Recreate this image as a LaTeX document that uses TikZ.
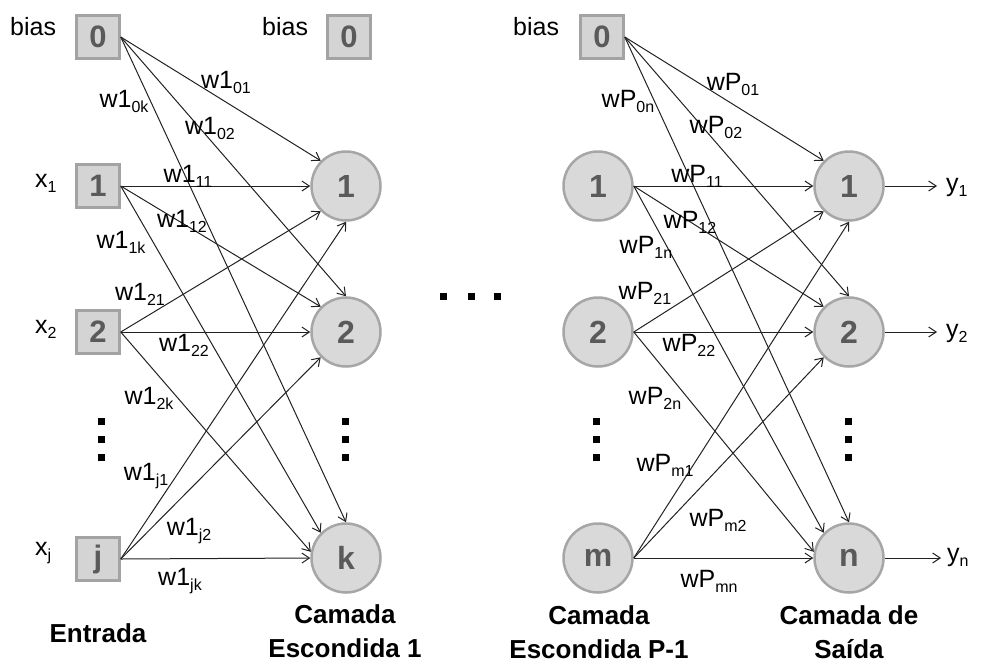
\documentclass[tikz,border=0pt]{standalone}
\usepackage{fontspec}
\setmainfont{Liberation Sans}
\usetikzlibrary{arrows.meta}
\definecolor{boxfill}{HTML}{D4D4D4}
\definecolor{boxline}{HTML}{A3A3A3}
\definecolor{unitfill}{HTML}{D9D9D9}
\definecolor{unitline}{HTML}{A6A6A6}
\definecolor{unittext}{HTML}{5A5A5A}
\definecolor{wirecol}{HTML}{222222}
% lowered, smaller index for weights and signals
\newcommand\lowsub[1]{\raisebox{-5pt}{\fontsize{16}{16}\selectfont #1}}
\begin{document}
\begin{tikzpicture}[x=1pt,y=-1pt,
  inbox/.style={rectangle, draw=boxline, fill=boxfill, line width=2.5pt,
    minimum size=43pt, inner sep=0pt, text=unittext,
    font=\fontsize{31}{31}\selectfont\bfseries},
  unit/.style={circle, draw=unitline, fill=unitfill, line width=2.5pt,
    minimum size=69pt, inner sep=0pt, text=unittext,
    font=\fontsize{32}{32}\selectfont\bfseries},
  wire/.style={draw=wirecol, line width=1pt,
    -{Straight Barb[length=7.5pt,width=10pt]}},
  lbl/.style={inner sep=0pt, font=\fontsize{25}{30}\selectfont},
  layer/.style={inner sep=0pt, anchor=north, align=center,
    font=\fontsize{26}{34}\selectfont\bfseries},
  dotmark/.style={rectangle, fill=black, minimum size=7pt, inner sep=0pt}
]
\useasboundingbox (0,0) rectangle (981,664);

% ---------- input layer ----------
\node[inbox] (b0) at (98,37) {0};
\node[inbox] (i1) at (98,186) {1};
\node[inbox] (i2) at (98,332) {2};
\node[inbox] (ij) at (98,559) {j};

% ---------- hidden layer 1 ----------
\node[inbox] (hb) at (349,37) {0};
\node[unit] (h1) at (346,186) {1};
\node[unit] (h2) at (346,332) {2};
\node[unit] (hk) at (346,558) {k};

% ---------- hidden layer P-1 ----------
\node[inbox] (pb) at (602,37) {0};
\node[unit] (p1) at (598,186) {1};
\node[unit] (p2) at (598,332) {2};
\node[unit] (pm) at (598,558) {m};

% ---------- output layer ----------
\node[unit] (o1) at (849,186) {1};
\node[unit] (o2) at (849,332) {2};
\node[unit] (on) at (849,558) {n};

% ---------- side labels ----------
\node[lbl, anchor=base west] (lb0) at (10,35) {bias};
\node[lbl, anchor=base west] (lhb) at (262,35) {bias};
\node[lbl, anchor=base west] (lpb) at (513,35) {bias};
\node[lbl, anchor=base west] (lx1) at (35,187) {x\lowsub{1}};
\node[lbl, anchor=base west] (lx2) at (35,333) {x\lowsub{2}};
\node[lbl, anchor=base west] (lxj) at (35,555) {x\lowsub{j}};

% ---------- weights: input -> hidden 1 ----------
\draw[wire] (b0.east) -- (h1.135);
\draw[wire] (b0.east) -- (h2.90);
\draw[wire] (b0.east) -- (hk.90);
\draw[wire] (i1.east) -- (h1.180);
\draw[wire] (i1.east) -- (h2.135);
\draw[wire] (i1.east) -- (hk.135);
\draw[wire] (i2.east) -- (h1.225);
\draw[wire] (i2.east) -- (h2.180);
\draw[wire] (i2.east) -- (hk.170);
\draw[wire] (ij.east) -- (h1.270);
\draw[wire] (ij.east) -- (h2.225);
\draw[wire] (ij.east) -- (hk.180);

\node[lbl] (w01) at (226,82)  {w1\lowsub{01}};
\node[lbl] (w0k) at (124,101) {w1\lowsub{0k}};
\node[lbl] (w02) at (210,128) {w1\lowsub{02}};
\node[lbl] (w11) at (188,176) {w1\lowsub{11}};
\node[lbl] (w12) at (182,221) {w1\lowsub{12}};
\node[lbl] (w1k) at (121,242) {w1\lowsub{1k}};
\node[lbl] (w21) at (140,294) {w1\lowsub{21}};
\node[lbl] (w22) at (184,345) {w1\lowsub{22}};
\node[lbl] (w2k) at (149,398) {w1\lowsub{2k}};
\node[lbl] (wj1) at (146,476) {w1\lowsub{j1}};
\node[lbl] (wj2) at (189,531) {w1\lowsub{j2}};
\node[lbl] (wjk) at (180,581) {w1\lowsub{jk}};

% ---------- weights: hidden P-1 -> output ----------
\draw[wire] (pb.east) -- (o1.135);
\draw[wire] (pb.east) -- (o2.90);
\draw[wire] (pb.east) -- (on.90);
\draw[wire] (p1.east) -- (o1.180);
\draw[wire] (p1.east) -- (o2.135);
\draw[wire] (p1.east) -- (on.135);
\draw[wire] (p2.east) -- (o1.225);
\draw[wire] (p2.east) -- (o2.180);
\draw[wire] (p2.east) -- (on.170);
\draw[wire] (pm.east) -- (o1.270);
\draw[wire] (pm.east) -- (o2.225);
\draw[wire] (pm.east) -- (on.180);

\node[lbl] (v01) at (733,84)  {wP\lowsub{01}};
\node[lbl] (v0n) at (628,101) {wP\lowsub{0n}};
\node[lbl] (v02) at (716,127) {wP\lowsub{02}};
\node[lbl] (v11) at (697,176) {wP\lowsub{11}};
\node[lbl] (v12) at (690,222) {wP\lowsub{12}};
\node[lbl] (v1n) at (646,247) {wP\lowsub{1n}};
\node[lbl] (v21) at (645,293) {wP\lowsub{21}};
\node[lbl] (v22) at (689,345) {wP\lowsub{22}};
\node[lbl] (v2n) at (655,398) {wP\lowsub{2n}};
\node[lbl] (vm1) at (665,465) {wP\lowsub{m1}};
\node[lbl] (vm2) at (718,520) {wP\lowsub{m2}};
\node[lbl] (vmn) at (709,581) {wP\lowsub{mn}};

% ---------- outputs ----------
\coordinate (e1) at (937,186);
\coordinate (e2) at (937,332);
\coordinate (en) at (941,558);
\draw[wire] (o1.east) -- (e1);
\draw[wire] (o2.east) -- (e2);
\draw[wire] (on.east) -- (en);
\node[lbl, anchor=base west] (ly1) at (946,191) {y\lowsub{1}};
\node[lbl, anchor=base west] (ly2) at (946,337) {y\lowsub{2}};
\node[lbl, anchor=base west] (lyn) at (947,561) {y\lowsub{n}};

% ---------- ellipsis marks ----------
\foreach \x/\n in {101/a,345/b,596/c,848/d}{
  \foreach \y/\m in {421/1,439/2,457/3}{
    \node[dotmark] (dot\n\m) at (\x,\y) {};
  }
}
\node[dotmark] (mid1) at (443,296) {};
\node[dotmark] (mid2) at (471,296) {};
\node[dotmark] (mid3) at (497,296) {};

% ---------- layer names ----------
\node[layer] (tin)  at (98,623)  {Entrada};
\node[layer] (th1)  at (345,604) {Camada\\Escondida 1};
\node[layer] (thp)  at (599,605) {Camada\\Escondida P-1};
\node[layer] (tout) at (849,605) {Camada de\\Saída};
\end{tikzpicture}
\end{document}
